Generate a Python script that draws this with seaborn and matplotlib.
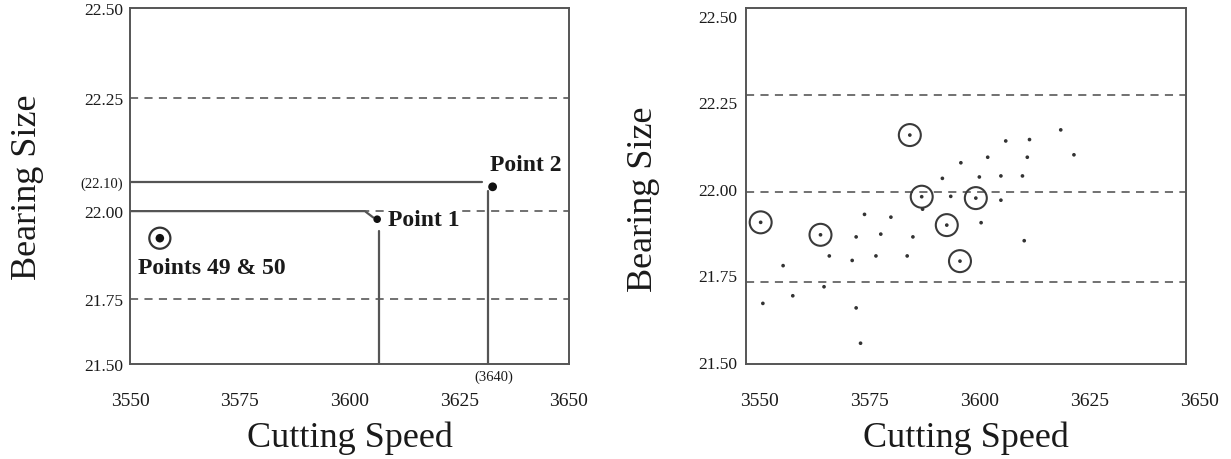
import numpy as np
import pandas as pd
import matplotlib
matplotlib.use("Agg")
import matplotlib.pyplot as plt
import matplotlib.transforms as mtransforms
import seaborn as sns

# ---------------- data ----------------
x_ticks = [3550, 3575, 3600, 3625, 3650]
x_tick_labels = ["3550", "3575", "3600", "3625", "3650"]
y_ticks = [21.50, 21.75, 22.00, 22.25, 22.50]
y_tick_labels = ["21.50", "21.75", "22.00", "22.25", "22.50"]

# left panel (schematic)
left_limit_lines = [22.25, 22.00, 21.75]
point_names = ["Points 49 & 50", "Point 1", "Point 2"]
point_x = [3556.8, 3606.3, 3632.6]
point_y = [21.923, 21.977, 22.084]
ref_y_value = 22.10
ref_y_label = "(22.10)"
ref_x_value = 3631.6
ref_x_label = "(3640)"
point1_line_x = [3550, 3603.5, 3605.4]
point1_line_y = [22.00, 22.00, 21.982]
point1_vline_x = [3606.8, 3606.8]
point1_vline_y = [21.943, 21.50]
point2_line_x = [3550, 3630.1]
point2_line_y = [22.10, 22.10]
point2_vline_y = [22.07, 21.50]
# piecewise axis of the schematic (value -> fraction of height)
scale_values = [20.0, 21.5, 21.75, 22.0, 22.1, 22.25, 22.5, 24.0]
scale_fracs = [-1.095, 0.0, 0.1826, 0.4298, 0.5112, 0.7472, 1.0, 3.02]

# right panel (observed data)
right_limit_lines = [22.27, 21.99, 21.73]
dot_x = [3575.1, 3580.7, 3588.0, 3577.0, 3583.0, 3569.0, 3574.2, 3579.6, 3586.7,
         3567.8, 3575.1, 3576.1, 3590.2, 3594.7, 3596.6, 3598.9, 3603.1, 3605.0,
         3609.1, 3608.0, 3608.0, 3603.5, 3612.9, 3614.0, 3614.5, 3613.3, 3621.6,
         3624.6, 3558.5, 3553.9, 3560.7]
dot_y = [21.861, 21.869, 21.861, 21.926, 21.918, 21.806, 21.793, 21.806, 21.806,
         21.717, 21.656, 21.554, 21.941, 22.030, 21.978, 22.075, 22.034, 22.091,
         22.138, 22.037, 21.967, 21.902, 22.037, 22.091, 22.142, 21.850, 22.170,
         22.098, 21.778, 21.669, 21.691]
circ_x = [3553.4, 3567.0, 3587.3, 3590.0, 3602.3, 3595.7, 3598.7]
circ_y = [21.903, 21.867, 22.155, 21.977, 21.973, 21.895, 21.791]

x_label = "Cutting Speed"
y_label = "Bearing Size"

# ---------------- style ----------------
sns.set_theme(style="white")
plt.rcParams["font.family"] = ["Liberation Serif", "DejaVu Serif"]
TXT = "#1a1a1a"
SPINE = "#555555"
DASH = "#666666"

fig = plt.figure(figsize=(12.31, 4.60), dpi=100)
axL = fig.add_axes([130 / 1231, 1 - 365 / 460, 439 / 1231, 355.7 / 460])
axR = fig.add_axes([745.7 / 1231, 1 - 365 / 460, 440 / 1231, 355.7 / 460])


def style_axes(ax):
    for s in ax.spines.values():
        s.set_visible(True)
        s.set_color(SPINE)
        s.set_linewidth(1.4)
    ax.grid(False)
    ax.tick_params(axis="both", length=0, colors=TXT)
    ax.set_xlabel(x_label, fontsize=26, color=TXT, va="top")
    ax.set_ylabel(y_label, fontsize=26, color=TXT)


# ---------- left ----------
fwd = lambda v: np.interp(v, scale_values, scale_fracs)
inv = lambda f: np.interp(f, scale_fracs, scale_values)
axL.set_yscale("function", functions=(fwd, inv))
axL.set_xlim(3550, 3650)
axL.set_ylim(21.5, 22.5)

for yv in left_limit_lines:
    axL.axhline(yv, color=DASH, lw=1.3, ls=(0, (4.5, 3.5)), zorder=1)

axL.plot(point1_line_x, point1_line_y, color=SPINE, lw=1.6, zorder=2)
axL.plot(point1_vline_x, point1_vline_y, color=SPINE, lw=1.6, zorder=2)
axL.plot(point2_line_x, point2_line_y, color=SPINE, lw=1.6, zorder=2)
axL.plot([ref_x_value, ref_x_value], point2_vline_y, color=SPINE, lw=1.6, zorder=2)

dfL = pd.DataFrame({"x": point_x, "y": point_y, "name": point_names})
sns.scatterplot(data=dfL.iloc[[0]], x="x", y="y", ax=axL, s=230, marker="o",
                facecolor="none", edgecolor="#333333", linewidth=1.6, zorder=4)
sns.scatterplot(data=dfL.iloc[[0]], x="x", y="y", ax=axL, s=38, color="#111111",
                edgecolor="none", zorder=5)
sns.scatterplot(data=dfL.iloc[[1]], x="x", y="y", ax=axL, s=30, color="#111111",
                edgecolor="none", zorder=5)
sns.scatterplot(data=dfL.iloc[[2]], x="x", y="y", ax=axL, s=40, color="#111111",
                edgecolor="none", zorder=5)

offsets = [(-16, -21), (8, 0), (-2, 16)]
for (nm, px, py), off in zip(zip(point_names, point_x, point_y), offsets):
    axL.annotate(nm, (px, py), xytext=off, textcoords="offset points",
                 ha="left", va="center", fontsize=17, fontweight="bold", color=TXT,
                 bbox=dict(boxstyle="square,pad=0.05", fc="white", ec="none"),
                 zorder=6)

axL.annotate(ref_x_label, (ref_x_value, 21.5), xytext=(4, -9),
             textcoords="offset points", ha="center", va="center",
             fontsize=10.5, color=TXT, annotation_clip=False)

yt = y_ticks + [ref_y_value]
ytl = y_tick_labels + [ref_y_label]
axL.set_yticks(yt)
axL.set_yticklabels(ytl)
axL.set_xticks(x_ticks)
axL.set_xticklabels(x_tick_labels)
style_axes(axL)
for lab in axL.get_yticklabels():
    lab.set_fontsize(10.5 if lab.get_text() == ref_y_label else 12.5)
for lab in axL.get_xticklabels():
    lab.set_fontsize(14)
axL.tick_params(axis="y", pad=5)
axL.tick_params(axis="x", pad=20)
axL.yaxis.set_label_coords(-0.195, 0.5)
axL.xaxis.set_label_coords(0.5, -0.16)

# ---------- right ----------
axR.set_xlim(3550, 3650)
axR.set_ylim(21.494, 22.521)
for yv in right_limit_lines:
    axR.axhline(yv, color=DASH, lw=1.3, ls=(0, (4.5, 3.5)), zorder=1)

dfD = pd.DataFrame({"x": dot_x + circ_x, "y": dot_y + circ_y})
dfC = pd.DataFrame({"x": circ_x, "y": circ_y})
sns.scatterplot(data=dfD, x="x", y="y", ax=axR, s=7, color="#333333",
                edgecolor="none", zorder=4)
sns.scatterplot(data=dfC, x="x", y="y", ax=axR, s=250, marker="o",
                facecolor="none", edgecolor="#3a3a3a", linewidth=1.5, zorder=3)

axR.set_yticks(y_ticks)
axR.set_yticklabels(y_tick_labels)
axR.set_xticks(x_ticks)
axR.set_xticklabels(x_tick_labels)
style_axes(axR)
for lab in axR.get_yticklabels():
    lab.set_fontsize(12.5)
for lab in axR.get_xticklabels():
    lab.set_fontsize(14)
axR.tick_params(axis="y", pad=6)
axR.tick_params(axis="x", pad=20)
shift = mtransforms.ScaledTranslation(14 / 100, 0, fig.dpi_scale_trans)
for lab in axR.xaxis.get_majorticklabels():
    lab.set_transform(lab.get_transform() + shift)
axR.yaxis.set_label_coords(-0.195, 0.467)
axR.xaxis.set_label_coords(0.5, -0.16)

fig.savefig("out.png", dpi=100, facecolor="white")
